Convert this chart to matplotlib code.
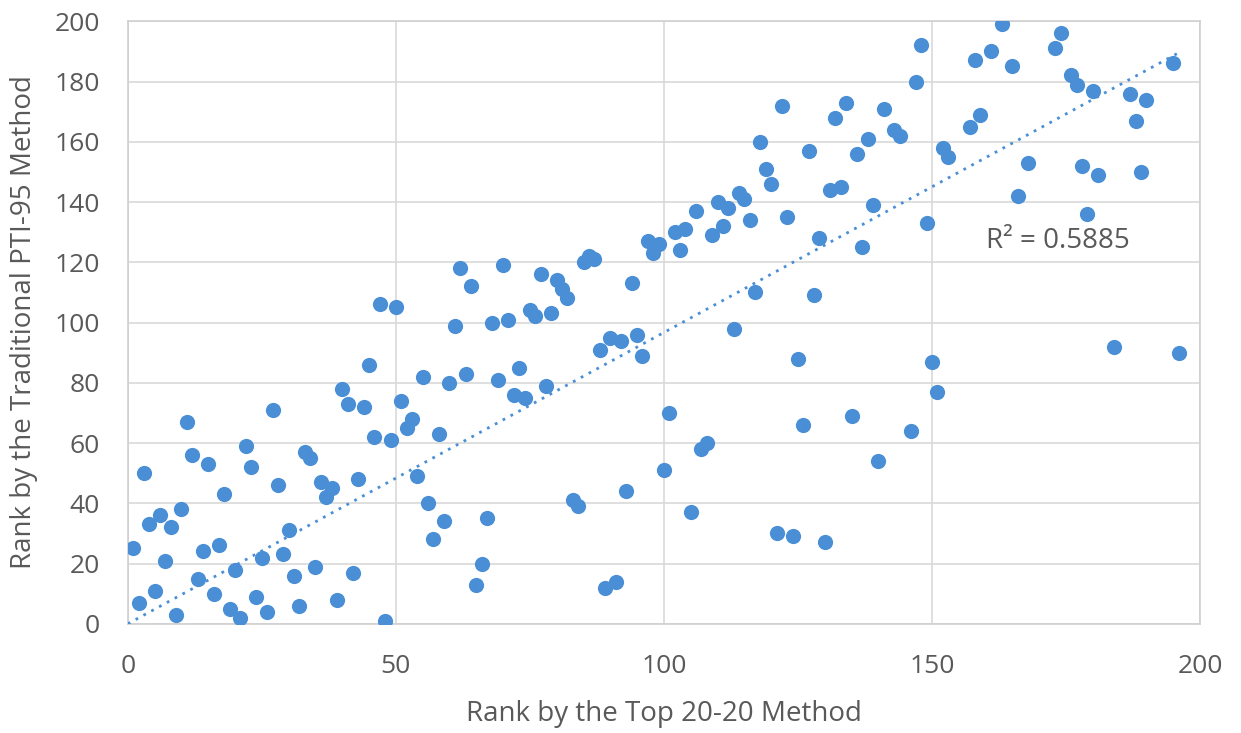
import numpy as np
import matplotlib.pyplot as plt

plt.rcParams['font.family'] = ['Open Sans', 'DejaVu Sans']

# Rank by the Top 20-20 method (x) and by the traditional PTI-95 method (y)
top2020_rank = [1, 2, 3, 4, 5, 6, 7, 8, 9, 10, 11, 12, 13, 14, 15, 16, 17, 18, 19, 20,
                21, 22, 23, 24, 25, 26, 27, 28, 29, 30, 31, 32, 33, 34, 35, 36, 37, 38, 39, 40,
                41, 42, 43, 44, 45, 46, 47, 48, 49, 50, 51, 52, 53, 54, 55, 56, 57, 58, 59, 60,
                61, 62, 63, 64, 65, 66, 67, 68, 69, 70, 71, 72, 73, 74, 75, 76, 77, 78, 79, 80,
                81, 82, 83, 84, 85, 86, 87, 88, 89, 90, 91, 92, 93, 94, 95, 96, 97, 98, 99, 100,
                101, 102, 103, 104, 105, 106, 107, 108, 109, 110, 111, 112, 113, 114, 115, 116,
                117, 118, 119, 120, 121, 122, 123, 124, 125, 126, 127, 128, 129, 130, 131, 132,
                133, 134, 135, 136, 137, 138, 139, 140, 141, 143, 144, 146, 147, 148, 149, 150,
                151, 152, 153, 157, 158, 159, 161, 163, 165, 166, 168, 173, 174, 176, 177, 178,
                179, 180, 181, 184, 187, 188, 189, 190, 195, 196]
pti95_rank = [25, 7, 50, 33, 11, 36, 21, 32, 3, 38, 67, 56, 15, 24, 53, 10, 26, 43, 5, 18,
              2, 59, 52, 9, 22, 4, 71, 46, 23, 31, 16, 6, 57, 55, 19, 47, 42, 45, 8, 78,
              73, 17, 48, 72, 86, 62, 106, 1, 61, 105, 74, 65, 68, 49, 82, 40, 28, 63, 34, 80,
              99, 118, 83, 112, 13, 20, 35, 100, 81, 119, 101, 76, 85, 75, 104, 102, 116, 79, 103, 114,
              111, 108, 41, 39, 120, 122, 121, 91, 12, 95, 14, 94, 44, 113, 96, 89, 127, 123, 126, 51,
              70, 130, 124, 131, 37, 137, 58, 60, 129, 140, 132, 138, 98, 143, 141, 134,
              110, 160, 151, 146, 30, 172, 135, 29, 88, 66, 157, 109, 128, 27, 144, 168,
              145, 173, 69, 156, 125, 161, 139, 54, 171, 164, 162, 64, 180, 192, 133, 87,
              77, 158, 155, 165, 187, 169, 190, 199, 185, 142, 153, 191, 196, 182, 179, 152,
              136, 177, 149, 92, 176, 167, 150, 174, 186, 90]

# linear trendline as shown on the chart (includes ranks that fall off the plot)
trend_slope = 0.967
trend_intercept = 0.0
r2_label = 'R² = 0.5885'

x = np.array(top2020_rank)
y = np.array(pti95_rank)

fig, ax = plt.subplots(figsize=(12.41, 7.33), dpi=100)
fig.subplots_adjust(left=0.103, right=0.967, bottom=0.149, top=0.971)

ax.scatter(x, y, s=120, color='#4a8fd6', zorder=3, linewidths=0)

xs = np.array([0, x.max()])
ax.plot(xs, trend_slope * xs + trend_intercept, linestyle=(0, (1, 2.2)),
        color='#4a8fd6', lw=2, zorder=4)

ax.text(160, 127, r2_label, fontsize=20, color='#595959', ha='left', va='center')

ax.set_xlim(0, 200)
ax.set_ylim(0, 200)
ax.set_xticks(range(0, 201, 50))
ax.set_yticks(range(0, 201, 20))
ax.grid(True, color='#d9d9d9', lw=1.2)
ax.set_axisbelow(True)
for sp in ax.spines.values():
    sp.set_color('#d0d0d0')
    sp.set_linewidth(1.2)
ax.tick_params(length=0, labelsize=19, colors='#595959')
ax.tick_params(axis='x', pad=22)
ax.tick_params(axis='y', pad=20)

ax.set_xlabel('Rank by the Top 20-20 Method', fontsize=20, color='#595959', labelpad=15)
ax.set_ylabel('Rank by the Traditional PTI-95 Method', fontsize=20, color='#595959', labelpad=12)

plt.savefig('out.png')
